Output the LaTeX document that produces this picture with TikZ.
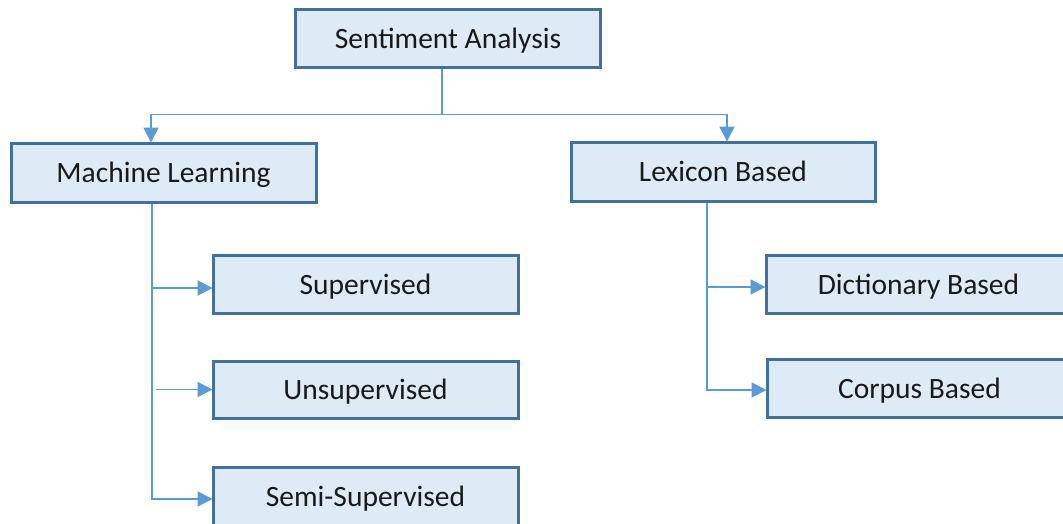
\documentclass[tikz,border=0pt]{standalone}
\usepackage{fontspec}
\setmainfont{Carlito}
\usetikzlibrary{arrows.meta}
\definecolor{boxfill}{HTML}{DEEBF7}
\definecolor{boxline}{HTML}{41719C}
\definecolor{conncol}{HTML}{5B9BD5}
\tikzset{
  box/.style={draw=boxline, fill=boxfill, line width=3pt, minimum width=305pt,
    minimum height=58pt, inner sep=0pt, text height=21pt, text depth=1pt,
    font=\fontsize{29.5}{33}\selectfont, text=black!90},
  conn/.style={draw=conncol, line width=1.8pt},
  arr/.style={conn, -{Triangle[length=15pt,width=15pt]}, shorten >=-1pt}
}
\begin{document}
\begin{tikzpicture}[x=1pt,y=-1pt]
\useasboundingbox (0,0) rectangle (1063,523);
\clip (0,0) rectangle (1063,523);
\node[box] (sa) at (448,38) {Sentiment Analysis};
\node[box, minimum height=59pt] (ml) at (163.5,172.5) {Machine Learning};
\node[box, minimum height=59pt, minimum width=304pt] (lb) at (723,171.5) {Lexicon Based};
\node[box] (sup) at (365.5,284) {Supervised};
\node[box, minimum height=57pt] (uns) at (365.5,389.5) {Unsupervised};
\node[box] (semi) at (365.5,496) {Semi-Supervised};
\node[box] (dict) at (918.5,284) {Dictionary Based};
\node[box] (corp) at (919.5,388) {Corpus Based};
% top tree
\coordinate (j) at ([xshift=-6pt, yshift=-46pt]sa.south);
\draw[conn] ([xshift=-6pt]sa.south) -- (j);
\draw[arr] (j) -| ([xshift=-12.5pt]ml.north);
\draw[arr] (j) -| ([xshift=4pt]lb.north);
% machine learning branch
\coordinate (mlv) at ([xshift=-11.5pt]ml.south);
\draw[arr] (mlv) |- ([yshift=-3pt]semi.west);
\draw[arr] ([yshift=-4pt]sup.west -| mlv) -- ([yshift=-4pt]sup.west);
\draw[arr] ([xshift=4pt]mlv |- uns.west) -- (uns.west);
% lexicon branch
\coordinate (lbv) at ([xshift=-16pt]lb.south);
\draw[arr] (lbv) |- ([yshift=-2pt]corp.west);
\draw[arr] ([yshift=-3pt]dict.west -| lbv) -- ([yshift=-3pt]dict.west);
\end{tikzpicture}
\end{document}
